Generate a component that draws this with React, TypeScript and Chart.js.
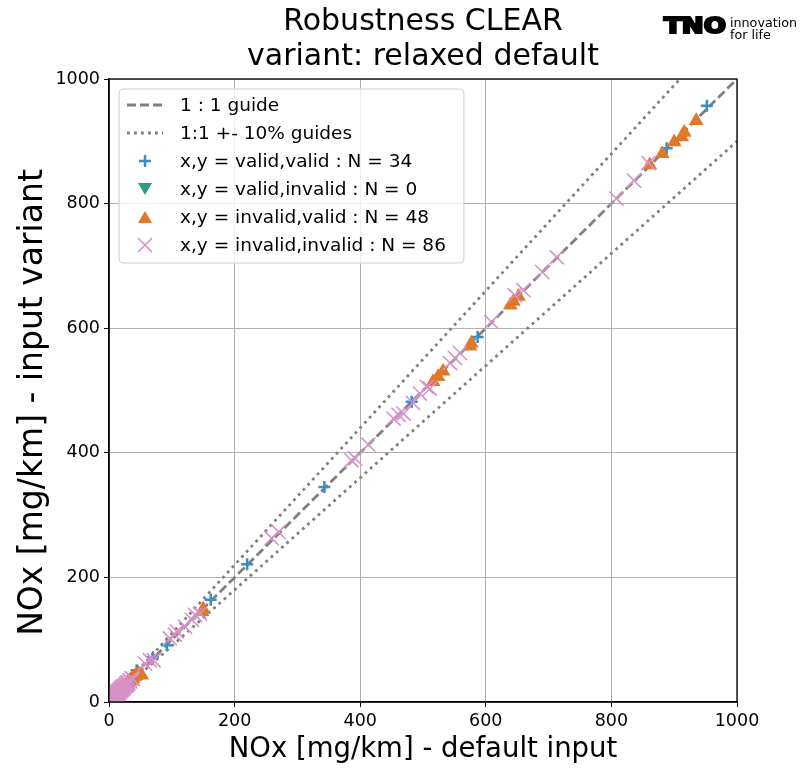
import React, { useEffect, useRef } from 'react';
import { Chart, registerables } from 'chart.js';

Chart.register(...registerables);

const TITLE_LINES = ['Robustness CLEAR', 'variant: relaxed default'];
const X_TITLE = 'NOx [mg/km] - default input';
const Y_TITLE = 'NOx [mg/km] - input variant';
const AXIS_MIN = 0;
const AXIS_MAX = 1000;
const TICK_STEP = 200;

const GUIDE_X = [0, 1000];
const GUIDE_ONE_Y = [0, 1000];
const GUIDE_UPPER_Y = [0, 1100];
const GUIDE_LOWER_Y = [0, 900];

const LEGEND_LABELS = [
  '1 : 1 guide',
  '1:1 +- 10% guides',
  'x,y = valid,valid : N = 34',
  'x,y = valid,invalid : N = 0',
  'x,y = invalid,valid : N = 48',
  'x,y = invalid,invalid : N = 86',
];

const VALID_VALID: number[][] = [
  [952, 957], [888, 889], [587, 586], [482, 482], [343, 345], [220, 221], [162, 164], [92, 91], [70, 72], [44, 51],
  [3, 4], [5, 5], [8, 7], [10, 11], [12, 12], [14, 15], [16, 17], [18, 18], [20, 21], [22, 22],
  [24, 25], [25, 27], [27, 28], [29, 30], [31, 31], [33, 34], [35, 36], [36, 38], [38, 39], [40, 42],
  [6, 8], [11, 9], [19, 20], [28, 26],
];

const VALID_INVALID: number[][] = [];

const INVALID_VALID: number[][] = [
  [935, 933], [916, 914], [912, 907], [900, 899], [881, 880], [861, 862], [652, 651], [644, 643], [639, 637],
  [577, 576], [575, 571], [532, 531], [524, 522], [516, 514], [150, 149], [148, 145], [52, 43],
  [2, 3], [4, 4], [5, 6], [7, 7], [8, 9], [9, 8], [11, 11], [12, 13], [13, 12], [15, 15], [16, 16], [17, 18],
  [19, 19], [20, 20], [21, 22], [23, 23], [24, 24], [26, 25], [27, 27], [28, 29], [30, 30], [31, 32], [33, 33],
  [34, 35], [36, 36], [38, 37], [39, 40], [41, 41], [43, 42], [45, 44], [47, 46],
];

const INVALID_INVALID: number[][] = [
  [859, 865], [836, 837], [808, 808], [713, 714], [690, 690], [660, 661], [646, 653], [609, 610], [559, 560],
  [551, 552], [543, 544], [511, 503], [506, 506], [495, 495], [484, 480], [469, 463], [461, 461], [453, 455],
  [413, 413], [392, 391], [386, 388], [270, 273], [259, 263], [145, 142], [137, 140], [132, 132], [121, 121],
  [108, 113], [105, 108], [97, 102], [71, 67], [65, 67], [57, 62],
  [1, 2], [2, 1], [2, 4], [3, 3], [3, 5], [4, 3], [4, 6], [5, 4], [5, 7], [6, 6],
  [6, 9], [7, 5], [7, 8], [8, 10], [8, 7], [9, 9], [9, 12], [10, 8], [10, 11], [11, 13],
  [11, 10], [12, 14], [12, 11], [13, 15], [13, 12], [14, 13], [14, 17], [15, 16], [15, 14], [16, 18],
  [17, 16], [17, 19], [18, 17], [18, 21], [19, 20], [20, 19], [20, 23], [21, 22], [22, 21], [22, 25],
  [23, 24], [24, 23], [25, 26], [26, 28], [27, 26], [28, 30], [29, 28], [30, 32], [31, 30], [33, 35],
  [34, 33], [36, 38], [38, 37],
];

const GUIDE_COLOR = '#7f7f7f';
const BLUE = '#3a8ec4';
const GREEN = '#2a9d80';
const ORANGE = '#e0782a';
const PINK = '#d891c8';
const FONT = '"DejaVu Sans", sans-serif';
const DASH = [9, 4];
const DOT = [2.8, 4.2];
const GUIDE_W = 2.8;

const toPts = (arr: number[][]) => arr.map(([x, y]) => ({ x, y }));
const guidePts = (ys: number[]) => GUIDE_X.map((x, i) => ({ x, y: ys[i] }));

function drawMarker(ctx: CanvasRenderingContext2D, kind: string, x: number, y: number) {
  ctx.save();
  if (kind === 'plus') {
    ctx.strokeStyle = BLUE; ctx.lineWidth = 2.5;
    ctx.beginPath(); ctx.moveTo(x - 6, y); ctx.lineTo(x + 6, y); ctx.moveTo(x, y - 6); ctx.lineTo(x, y + 6); ctx.stroke();
  } else if (kind === 'down') {
    ctx.fillStyle = GREEN;
    ctx.beginPath(); ctx.moveTo(x - 7, y - 6); ctx.lineTo(x + 7, y - 6); ctx.lineTo(x, y + 6); ctx.closePath(); ctx.fill();
  } else if (kind === 'up') {
    ctx.fillStyle = ORANGE;
    ctx.beginPath(); ctx.moveTo(x - 7, y + 6); ctx.lineTo(x + 7, y + 6); ctx.lineTo(x, y - 6); ctx.closePath(); ctx.fill();
  } else if (kind === 'x') {
    ctx.strokeStyle = PINK; ctx.lineWidth = 1.6;
    ctx.beginPath(); ctx.moveTo(x - 7, y - 7); ctx.lineTo(x + 7, y + 7); ctx.moveTo(x - 7, y + 7); ctx.lineTo(x + 7, y - 7); ctx.stroke();
  }
  ctx.restore();
}

const overlayPlugin = {
  id: 'overlay',
  afterDraw(chart: any) {
    const { ctx, chartArea: a } = chart;
    ctx.save();
    ctx.strokeStyle = '#000';
    ctx.lineWidth = 1.3;
    ctx.strokeRect(a.left, a.top, a.right - a.left, a.bottom - a.top);

    const cx = (a.left + a.right) / 2;
    ctx.fillStyle = '#000';
    ctx.textAlign = 'center';
    ctx.textBaseline = 'middle';
    ctx.font = `30px ${FONT}`;
    ctx.fillText(TITLE_LINES[0], cx, 22);
    ctx.fillText(TITLE_LINES[1], cx, 57);

    ctx.font = `27.5px ${FONT}`;
    ctx.fillText(X_TITLE, cx, 750);
    ctx.save();
    ctx.translate(33, (a.top + a.bottom) / 2 + 12);
    ctx.rotate(-Math.PI / 2);
    ctx.font = `33px ${FONT}`;
    ctx.fillText(Y_TITLE, 0, 0);
    ctx.restore();

    // legend
    const bx = a.left + 10, by = a.top + 10;
    const rowH = 28;
    ctx.font = `18.5px ${FONT}`;
    let maxW = 0;
    LEGEND_LABELS.forEach((l) => { maxW = Math.max(maxW, ctx.measureText(l).width); });
    const bw = 61 + maxW + 18;
    const bh = rowH * LEGEND_LABELS.length + 6;
    ctx.beginPath();
    ctx.roundRect(bx, by, bw, bh, 4);
    ctx.fillStyle = 'rgba(255,255,255,0.8)';
    ctx.fill();
    ctx.strokeStyle = '#cccccc';
    ctx.lineWidth = 1;
    ctx.stroke();
    const kinds = ['dash', 'dot', 'plus', 'down', 'up', 'x'];
    LEGEND_LABELS.forEach((label, i) => {
      const ry = by + 16 + i * rowH;
      const hx0 = bx + 8, hx1 = bx + 44, hc = (hx0 + hx1) / 2;
      const k = kinds[i];
      if (k === 'dash' || k === 'dot') {
        ctx.save();
        ctx.strokeStyle = GUIDE_COLOR;
        ctx.lineWidth = GUIDE_W;
        ctx.setLineDash(k === 'dash' ? DASH : DOT);
        ctx.beginPath(); ctx.moveTo(hx0, ry); ctx.lineTo(hx1, ry); ctx.stroke();
        ctx.restore();
      } else {
        drawMarker(ctx, k, hc, ry);
      }
      ctx.fillStyle = '#000';
      ctx.textAlign = 'left';
      ctx.textBaseline = 'middle';
      ctx.fillText(label, bx + 61, ry + 1);
    });

    // logo
    ctx.save();
    ctx.font = `bold 22px ${FONT}`;
    ctx.textAlign = 'left';
    ctx.textBaseline = 'alphabetic';
    const tw = ctx.measureText('TNO').width;
    ctx.translate(664, 33);
    ctx.scale(62 / tw, 1);
    ctx.fillStyle = '#000';
    ctx.strokeStyle = '#000';
    ctx.lineWidth = 2.2;
    ctx.fillText('TNO', 0, 0);
    ctx.strokeText('TNO', 0, 0);
    ctx.restore();
    ctx.save();
    ctx.font = `13px ${FONT}`;
    ctx.textAlign = 'left';
    ctx.textBaseline = 'alphabetic';
    ctx.fillStyle = '#000';
    const iw = ctx.measureText('innovation').width;
    ctx.translate(730, 0);
    ctx.scale(67 / iw, 1);
    ctx.fillText('innovation', 0, 27);
    ctx.fillText('for life', 0, 39);
    ctx.restore();

    ctx.restore();
  },
};

export default function App() {
  const ref = useRef<HTMLCanvasElement | null>(null);
  useEffect(() => {
    if (!ref.current) return;
    const tickCfg = { color: '#000', font: { family: FONT, size: 17.5 }, padding: 4, stepSize: TICK_STEP, callback: (v: any) => String(v) };
    const gridCfg = { color: '#b0b0b0', lineWidth: 1, tickLength: 5, tickColor: '#000', tickWidth: 1 };
    const chart = new Chart(ref.current, {
      type: 'scatter',
      data: {
        datasets: [
          { label: LEGEND_LABELS[0], data: guidePts(GUIDE_ONE_Y), showLine: true, borderColor: GUIDE_COLOR, borderWidth: GUIDE_W, borderDash: DASH, pointRadius: 0, order: 10 },
          { label: LEGEND_LABELS[1], data: guidePts(GUIDE_UPPER_Y), showLine: true, borderColor: GUIDE_COLOR, borderWidth: GUIDE_W, borderDash: DOT, pointRadius: 0, order: 10 },
          { label: '', data: guidePts(GUIDE_LOWER_Y), showLine: true, borderColor: GUIDE_COLOR, borderWidth: GUIDE_W, borderDash: DOT, pointRadius: 0, order: 10 },
          { label: LEGEND_LABELS[2], data: toPts(VALID_VALID), pointStyle: 'cross', pointRadius: 6, borderWidth: 2.5, borderColor: BLUE, backgroundColor: BLUE, order: 4 },
          { label: LEGEND_LABELS[3], data: toPts(VALID_INVALID), pointStyle: 'triangle', rotation: 180, pointRadius: 8, borderWidth: 0, backgroundColor: GREEN, order: 3 },
          { label: LEGEND_LABELS[4], data: toPts(INVALID_VALID), pointStyle: 'triangle', pointRadius: 8.5, borderWidth: 0, borderColor: ORANGE, backgroundColor: ORANGE, order: 2 },
          { label: LEGEND_LABELS[5], data: toPts(INVALID_INVALID), pointStyle: 'crossRot', pointRadius: 10, borderWidth: 1.6, borderColor: PINK, backgroundColor: PINK, order: 1 },
        ],
      } as any,
      options: {
        animation: false,
        responsive: false,
        devicePixelRatio: 1,
        layout: { padding: { left: 0, top: 79, right: 63, bottom: 0 } },
        plugins: { legend: { display: false }, title: { display: false }, tooltip: { enabled: false } },
        scales: {
          x: {
            type: 'linear', min: AXIS_MIN, max: AXIS_MAX,
            ticks: tickCfg,
            grid: gridCfg,
            border: { display: true, color: '#000', width: 1.3 },
            afterFit: (s: any) => { s.height = 70; },
          },
          y: {
            type: 'linear', min: AXIS_MIN, max: AXIS_MAX,
            ticks: tickCfg,
            grid: gridCfg,
            border: { display: true, color: '#000', width: 1.3 },
            afterFit: (s: any) => { s.width = 109; },
          },
        },
      } as any,
      plugins: [overlayPlugin],
    });
    return () => chart.destroy();
  }, []);
  return (
    <div style={{ position: 'absolute', left: 0, top: 0, width: 800, height: 772, background: '#fff' }}>
      <canvas ref={ref} width={800} height={772} style={{ width: 800, height: 772 }} />
    </div>
  );
}
